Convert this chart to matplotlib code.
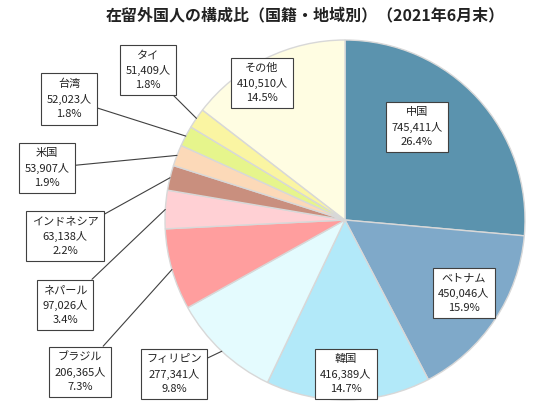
import numpy as np
import matplotlib.pyplot as plt

plt.rcParams['font.family'] = ['Noto Sans CJK JP', 'DejaVu Sans']

# ============================================================
# DATA
# ============================================================

countries = ["中国", "ベトナム", "韓国", "フィリピン", "ブラジル", "ネパール",
             "インドネシア", "米国", "台湾", "タイ", "その他"]
people = [745411, 450046, 416389, 277341, 206365, 97026,
          63138, 53907, 52023, 51409, 410510]
shares = [26.4, 15.9, 14.7, 9.8, 7.3, 3.4, 2.2, 1.9, 1.8, 1.8, 14.5]

colors = ["#5b93ae", "#7fa9c9", "#b2e9f9", "#e4fbfe", "#ff9e9e", "#ffd0d4",
          "#c98f7e", "#fcd9b8", "#e6f58c", "#faf5a2", "#fffde2"]

# label box centres (figure pixels, from top-left) and whether a leader line is drawn
box_px = [(417, 127), (464, 293), (346, 374), (174, 374), (80, 372), (65, 305),
          (65, 236), (47, 168), (69, 99), (148, 70), (262, 83)]
leader = [False, False, False, True, True, True, True, True, True, True, False]

# ============================================================
# FIGURE
# ============================================================

W, H = 555, 407
cx, cy, R = 345, 220, 180

fig = plt.figure(figsize=(W / 100, H / 100), dpi=100)
ax = fig.add_axes([(cx - R) / W, (H - cy - R) / H, 2 * R / W, 2 * R / H])

wedges, _ = ax.pie(people,
                   colors=colors,
                   startangle=90,
                   counterclock=False,
                   radius=1.0,
                   wedgeprops=dict(edgecolor="#d8d8d8", linewidth=1.0))
ax.set_xlim(-1, 1)
ax.set_ylim(-1, 1)
ax.set_aspect("equal")
ax.axis("off")

box_style = dict(boxstyle="square,pad=0.5", facecolor="white",
                 edgecolor="#404040", linewidth=0.8)
txt_kw = dict(ha="center", va="center", multialignment="center",
              fontsize=8, linespacing=1.5, color="#222222", bbox=box_style)

for w, name, n, pct, (bx, by), has_line in zip(wedges, countries, people,
                                               shares, box_px, leader):
    label = f"{name}\n{n:,}人\n{pct:.1f}%"
    if has_line:
        mid = np.deg2rad((w.theta1 + w.theta2) / 2)
        ax.annotate(label,
                    xy=(np.cos(mid), np.sin(mid)),
                    xycoords="data",
                    xytext=(bx, H - by),
                    textcoords="figure pixels",
                    arrowprops=dict(arrowstyle="-", color="#404040",
                                    linewidth=0.8, shrinkA=0, shrinkB=0),
                    annotation_clip=False,
                    **txt_kw)
    else:
        fig.text(bx / W, 1 - by / H, label, **txt_kw)

fig.text(305 / W, 1 - 15 / H,
         "在留外国人の構成比（国籍・地域別）（2021年6月末）",
         ha="center", va="center", fontsize=11.5, fontweight="bold",
         color="#222222")

fig.savefig("out.png", dpi=100, facecolor="white")
